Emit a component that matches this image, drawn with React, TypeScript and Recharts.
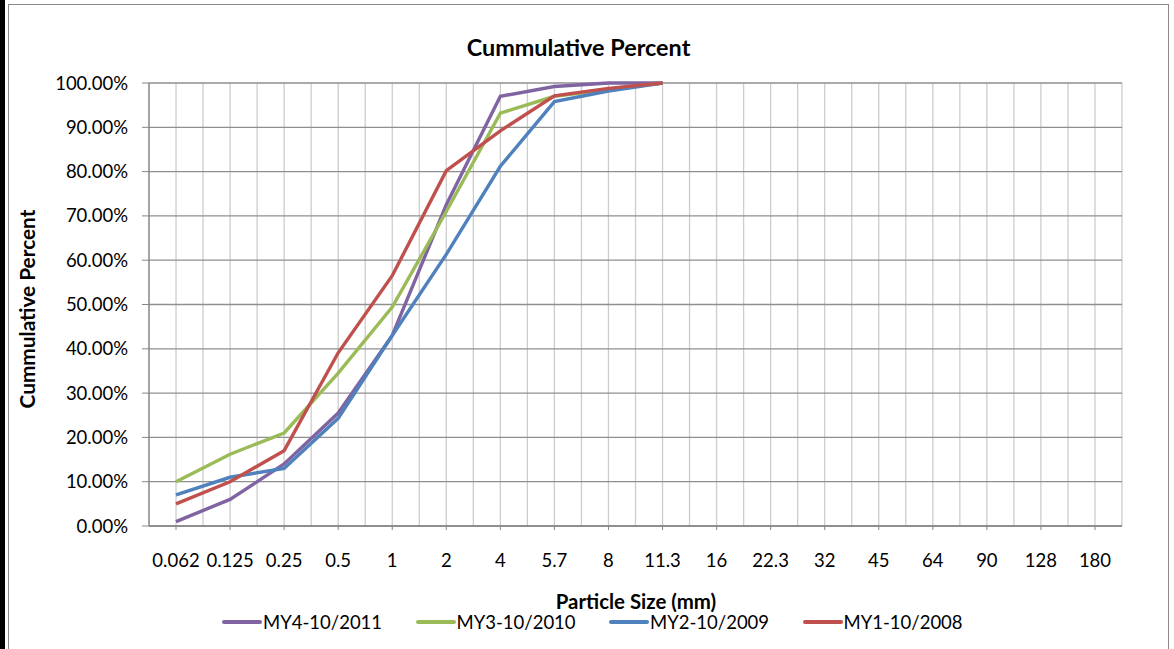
import React from 'react';
import { LineChart, Line, XAxis, YAxis, CartesianGrid, Legend } from 'recharts';

const categories = ['0.062', '0.125', '0.25', '0.5', '1', '2', '4', '5.7', '8', '11.3', '16', '22.3', '32', '45', '64', '90', '128', '180'];
const my4 = [1, 6, 14, 25.5, 43, 72.5, 97, 99.2, 100, 100, null, null, null, null, null, null, null, null];
const my3 = [10, 16.2, 21, 34.5, 49.4, 71, 93.2, 97, 98.5, 100, null, null, null, null, null, null, null, null];
const my2 = [7, 11, 13, 24.3, 43, 61.3, 81.2, 95.8, 98.2, 100, null, null, null, null, null, null, null, null];
const my1 = [5, 10, 17, 39.1, 56.5, 80.2, 89.2, 97.1, 98.8, 100, null, null, null, null, null, null, null, null];
const yTicks = [0, 10, 20, 30, 40, 50, 60, 70, 80, 90, 100];

const series = [
  { key: 'my4', name: 'MY4-10/2011', color: '#8064A2' },
  { key: 'my3', name: 'MY3-10/2010', color: '#9BBB59' },
  { key: 'my2', name: 'MY2-10/2009', color: '#4F81BD' },
  { key: 'my1', name: 'MY1-10/2008', color: '#C0504D' },
];

const data = categories.map((c, i) => ({ size: c, my4: my4[i], my3: my3[i], my2: my2[i], my1: my1[i] }));

const FONT = 'Lato, "Open Sans", sans-serif';

const LegendContent = () => (
  <div style={{ display: 'flex', alignItems: 'center', height: 24, paddingLeft: 222 }}>
    {series.map((s) => (
      <div key={s.key} style={{ display: 'flex', alignItems: 'center', width: 193.5 }}>
        <div style={{ width: 40, height: 3.5, background: s.color, borderRadius: 2, marginRight: 1 }} />
        <span style={{ fontFamily: FONT, fontSize: 18.5, color: '#000', lineHeight: 1, whiteSpace: 'nowrap' }}>{s.name}</span>
      </div>
    ))}
  </div>
);

export default function App() {
  return (
    <div style={{ position: 'absolute', left: 0, top: 0, width: 1174, height: 649, background: '#fff', overflow: 'hidden' }}>
      <div style={{ position: 'absolute', left: 0, top: 0, width: 5, height: 649, background: '#000' }} />
      <div style={{ position: 'absolute', left: 8, top: 4, width: 1161, height: 700, border: '1.5px solid #8a8a8a', boxSizing: 'border-box' }} />
      <LineChart
        width={1174}
        height={649}
        data={data}
        margin={{ top: 83, right: 52, bottom: 73, left: 0 }}
        style={{ position: 'absolute', left: 0, top: 0 }}
      >
        <CartesianGrid
          horizontal={false}
          stroke="#cdcdcd"
          strokeWidth={1.3}
          verticalCoordinatesGenerator={({ offset }: any) =>
            Array.from({ length: 37 }, (_, k) => offset.left + (k * offset.width) / 36)
          }
        />
        <CartesianGrid vertical={false} stroke="#8f8f8f" strokeWidth={1.3} />
        <XAxis
          dataKey="size"
          interval={0}
          height={50}
          padding={{ left: 27, right: 27 }}
          axisLine={{ stroke: '#868686', strokeWidth: 1.3 }}
          tickLine={{ stroke: '#868686' }}
          tickSize={4}
          tickMargin={24}
          tick={{ fontSize: 18.5, fill: '#000', fontFamily: FONT }}
        />
        <YAxis
          width={149}
          domain={[0, 100]}
          ticks={yTicks}
          interval={0}
          tickFormatter={(v: number) => `${v.toFixed(2)}%`}
          axisLine={{ stroke: '#868686', strokeWidth: 1.3 }}
          tickLine={{ stroke: '#868686' }}
          tickSize={7}
          tickMargin={14}
          tick={{ fontSize: 18.5, fill: '#000', fontFamily: FONT }}
        />
        {series.map((s) => (
          <Line
            key={s.key}
            type="linear"
            dataKey={s.key}
            name={s.name}
            stroke={s.color}
            strokeWidth={3.4}
            dot={false}
            activeDot={false}
            isAnimationActive={false}
          />
        ))}
        <Legend
          verticalAlign="middle"
          layout="horizontal"
          content={<LegendContent />}
          wrapperStyle={{ position: 'absolute', top: 610, left: 0, width: 1174, height: 24 }}
        />
      </LineChart>
      <div style={{ position: 'absolute', left: 578.5, top: 36, transform: 'translateX(-50%)', fontFamily: FONT, fontWeight: 700, fontSize: 23.4, lineHeight: 1, whiteSpace: 'nowrap', color: '#000' }}>
        Cummulative Percent
      </div>
      <div style={{ position: 'absolute', left: 636, top: 591, transform: 'translateX(-50%)', fontFamily: FONT, fontWeight: 700, fontSize: 20.4, lineHeight: 1, whiteSpace: 'nowrap', color: '#000' }}>
        Particle Size (mm)
      </div>
      <div style={{ position: 'absolute', left: 27, top: 309, transform: 'translate(-50%, -50%) rotate(-90deg)', fontFamily: FONT, fontWeight: 700, fontSize: 20.8, lineHeight: 1, whiteSpace: 'nowrap', color: '#000' }}>
        Cummulative Percent
      </div>
    </div>
  );
}
